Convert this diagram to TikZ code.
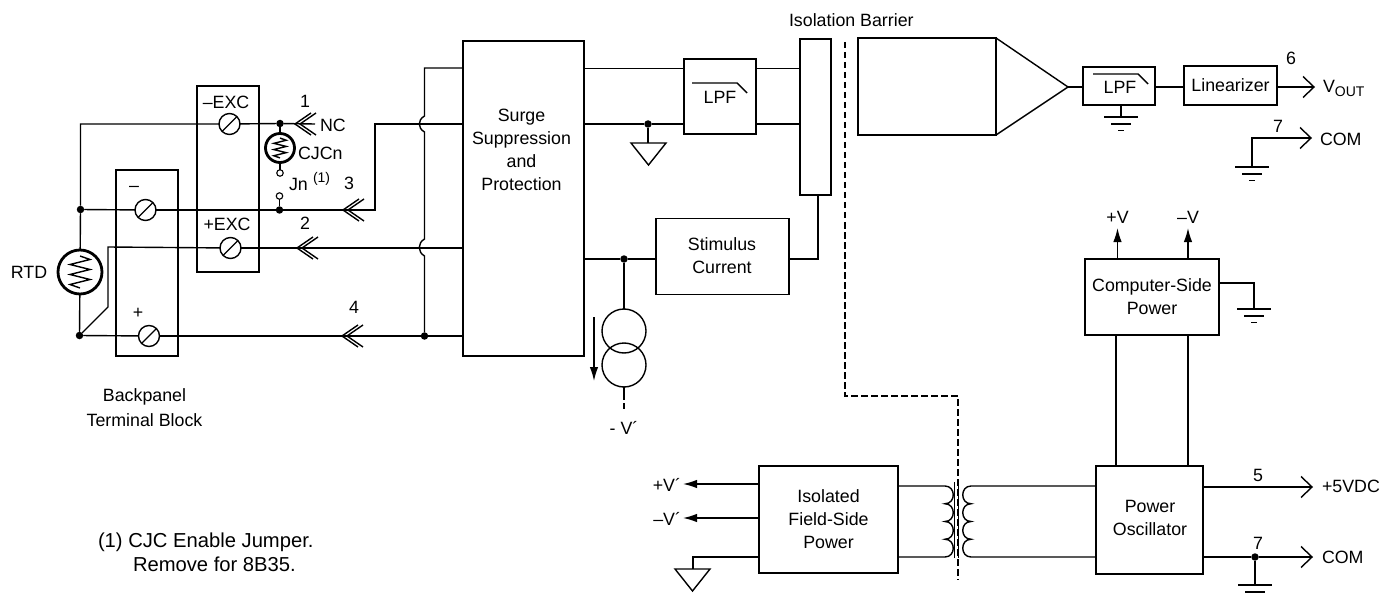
\documentclass[tikz,border=0pt]{standalone}
\usepackage{fontspec}
\setmainfont{Liberation Sans}
\usetikzlibrary{arrows.meta}
\newcommand{\mainsize}{\fontsize{17.8}{23}\selectfont}
\tikzset{
  x=1pt,y=-1pt,
  wire/.style={line width=1.4pt,line cap=butt,line join=miter},
  thinbox/.style={draw,line width=1.4pt,outer sep=0pt,inner sep=0pt,align=center,font=\mainsize},
  thickbox/.style={draw,line width=2.8pt,outer sep=0pt,inner sep=0pt,align=center,font=\mainsize},
  lbl/.style={inner sep=0pt,outer sep=0pt,font=\mainsize,align=center},
  dotn/.style={circle,fill,inner sep=0pt,minimum size=7.5pt,outer sep=0pt},
  open/.style={circle,draw,line width=1.1pt,inner sep=0pt,minimum size=6.5pt,outer sep=0pt},
  screw/.style={circle,draw,line width=1.4pt,inner sep=0pt,minimum size=21pt,outer sep=0pt},
  rcirc/.style={circle,draw,line width=2.8pt,inner sep=0pt,outer sep=0pt},
  pwr/.style={circle,draw,line width=1.4pt,inner sep=0pt,minimum size=44pt,outer sep=0pt},
  fhead/.style={wire,-{Latex[length=14pt,width=8.5pt]}},
  pics/dchev/.style={code={\draw[wire] (16,-11)--(0,0)--(16,11) (21,-11)--(5,0)--(21,11);}},
  pics/chev/.style={code={\draw[wire] (-11,-10.5)--(0,0)--(-11,10.5);}},
  pics/gnd/.style={code={\draw[wire] (-17,0)--(17,0) (-10,7)--(10,7) (-3,13.5)--(3,13.5);}},
  pics/gndtwo/.style={code={\draw[wire] (-17,0)--(17,0) (-10,7)--(10,7);}},
  pics/tri/.style={code={\draw[wire,line join=miter] (-17.5,0)--(17.5,0)--(0,22)--cycle;}},
  pics/zig/.style={code={\draw[wire] (0,-16)--(10,-12.5)--(-10,-7.5)--(10,-2.5)--(-10,2.5)--(10,7.5)--(-10,12.5)--(0,16);}},
  pics/lpfsym/.style={code={\draw[wire] (-28,0)--(17,0)--(27,10);}}
}
\begin{document}
\begin{tikzpicture}
\useasboundingbox (0,0) rectangle (1381,596);
% terminal blocks
\node[thickbox,minimum width=62pt,minimum height=186pt] (exc) at (228,179) {};
\node[thickbox,minimum width=62pt,minimum height=186pt] (tb) at (147,263) {};
\node[screw] (s1) at (229.5,124) {}; \draw[wire] (s1.225)--(s1.45);
\node[screw] (s2) at (230.5,248) {}; \draw[wire] (s2.225)--(s2.45);
\node[screw] (s3) at (145.5,210) {}; \draw[wire] (s3.225)--(s3.45);
\node[screw] (s4) at (149,336) {}; \draw[wire] (s4.225)--(s4.45);
\node[lbl] (lexcm) at (226,102) {–EXC};
\node[lbl] (lexcp) at (227,224) {+EXC};
\node[lbl] (lm) at (134,189) {–};
\node[lbl] (lp) at (138,313) {+};
% main blocks
\node[thinbox,minimum width=121pt,minimum height=315pt] (surge) at (523.5,198.5) {};
\node[lbl] (surget) at (521.5,149.5) {Surge\hspace{5pt}\\Suppression\\and\hspace{5pt}\\Protection};
\node[thinbox,minimum width=72pt,minimum height=75pt] (lpfa) at (720,96.5) {};
\node[lbl] (lpfat) at (720,97) {LPF};
\pic at (720,83) {lpfsym};
\node[thinbox,minimum width=31pt,minimum height=156pt] (bar) at (815.5,117) {};
\node[thinbox,minimum width=133pt,minimum height=76pt] (stim) at (722.5,256.5) {};
\node[lbl] (stimt) at (722,255.5) {Stimulus\\Current};
\node[thinbox,minimum width=138pt,minimum height=97pt] (amp) at (927,86.5) {};
\coordinate (tip) at (1068,87);
\draw[wire] (amp.north east)--(tip)--(amp.south east);
\node[thinbox,minimum width=72pt,minimum height=38pt] (lpfb) at (1119,86) {};
\node[lbl] (lpfbt) at (1120,87) {LPF};
\pic at (1121,74) {lpfsym};
\node[thickbox,minimum width=93pt,minimum height=39pt] (lin) at (1230.5,85.5) {Linearizer};
\node[thickbox,minimum width=134pt,minimum height=76pt] (comp) at (1152,297) {Computer-Side\\Power};
\node[thickbox,minimum width=107pt,minimum height=108pt] (osc) at (1149.5,520) {};
\node[lbl] (osct) at (1150,518) {Power\\Oscillator};
\node[thickbox,minimum width=139pt,minimum height=107pt] (iso) at (828.5,519.5) {Isolated\\Field-Side\\Power};
% RTD
\node[rcirc,minimum size=44pt] (rtd) at (80,272) {};
\pic at (80,272) {zig};
\node[dotn] (d1) at (80.5,209.5) {};
\node[dotn] (d2) at (79.5,335.5) {};
\coordinate (c1) at (80.5,124);
\coordinate (c2) at (108,307);
\coordinate (c3) at (108,247);
\draw[wire] (s1)--(c1)--(d1)--(rtd)--(d2);
\draw[wire] (d1)--(s3);
\draw[wire] (d2)--(s4);
\draw[wire] (d2)--(c2)--(c3)--(s2);
% CJC
\node[dotn] (d3) at (280,123.5) {};
\node[rcirc,minimum size=29pt] (cjc) at (280,148) {};
\pic[scale=.62] at (280,148) {zig};
\node[open] (j1) at (280,173) {};
\node[open] (j2) at (279.5,196) {};
\node[dotn] (d4) at (279.5,210) {};
\coordinate (nc) at (315,124);
\draw[wire] (s1)--(d3)--(nc);
\draw[wire] (d3)--(cjc)--(j1);
\draw[wire] (j2)--(d4);
\pic at (295,124) {dchev};
\node[lbl] (n1) at (305,101) {1};
\node[lbl,anchor=west] (lnc) at (320,125) {NC};
\node[lbl,anchor=west] (lcjc) at (298,153) {CJCn};
\node[lbl,anchor=west] (ljn) at (289,184.5) {Jn};
\node[lbl,anchor=west,font=\fontsize{14}{16}\selectfont] (ljn1) at (313,179) {(1)};
\node[lbl] (lrtd) at (29,272) {RTD};
% wires to the surge block
\coordinate (w3a) at (375,210);
\coordinate (w3b) at (375,124);
\draw[wire] (s3)--(d4)--(w3a)--(w3b)--(w3b-|surge.west);
\pic at (343,210) {dchev};
\node[lbl] (n3) at (349,183) {3};
\draw[wire] (s2)--(s2-|surge.west);
\pic at (297,248) {dchev};
\node[lbl] (n2) at (305,223) {2};
\node[dotn] (d5) at (424.5,336) {};
\draw[wire] (s4)--(d5)--(d5-|surge.west);
\pic at (342,336) {dchev};
\node[lbl] (n4) at (354,307) {4};
\coordinate (vt) at (424.5,68);
\draw[wire] (surge.west|-vt)--(vt)--(424.5,116) .. controls (417.5,120) and (417.5,128) .. (424.5,132)
  --(424.5,239) .. controls (417.5,243) and (417.5,252) .. (424.5,256)--(d5);
% surge to LPF to bar
\coordinate (a1) at (584,68.5);
\coordinate (a2) at (584,124);
\node[dotn] (d6) at (648,124) {};
\draw[wire] (surge.east|-a1)--(lpfa.west|-a1);
\draw[wire] (surge.east|-a2)--(d6)--(lpfa.west|-a2);
\draw[wire] (lpfa.east|-a1)--(bar.west|-a1);
\draw[wire] (lpfa.east|-a2)--(bar.west|-a2);
\coordinate (t1) at (648,143);
\draw[wire] (d6)--(t1);
\pic at (648.5,143) {tri};
\node[lbl,anchor=west] (lib) at (789,20) {Isolation Barrier};
% stimulus
\coordinate (b3) at (584,259);
\node[dotn] (d7) at (624,259) {};
\draw[wire] (surge.east|-b3)--(d7)--(stim.west|-b3);
\coordinate (b4) at (818,259);
\draw[wire] (stim.east|-b4)--(b4)--(b4|-bar.south);
\node[pwr] (p1) at (624,331) {};
\node[pwr] (p2) at (624,365) {};
\draw[wire] (d7)--(p1);
\coordinate (p3) at (624,409);
\draw[wire,dash pattern=on 13pt off 3pt on 6pt off 2pt] (p2)--(p3);
\coordinate (ar1) at (594,317);
\coordinate (ar2) at (594,381);
\draw[fhead] (ar1)--(ar2);
\node[lbl] (lv) at (624,428) {- V´};
% dashed barrier
\coordinate (q1) at (845,42);
\coordinate (q2) at (845,396);
\coordinate (q3) at (958,396);
\coordinate (q4) at (958,580);
\draw[line width=1.2pt,dash pattern=on 6.5pt off 3.5pt] (q1)--(q2)--(q3)--(q4);
% output side
\draw[wire] (tip)--(lpfb.west|-tip);
\draw[wire] (lpfb.east|-tip)--(lin.west|-tip);
\coordinate (o1) at (1314,87);
\draw[wire] (lin.east|-tip)--(o1);
\pic at (o1) {chev};
\node[lbl] (n6) at (1291,58) {6};
\node[lbl,anchor=west] (lvo) at (1323,88) {V\raisebox{-4pt}{\fontsize{14}{14}\selectfont OUT}};
\coordinate (g1) at (1121,117);
\draw[wire] (lpfb.south-|g1)--(g1);
\pic at (g1) {gnd};
\coordinate (o2) at (1252,138);
\coordinate (o3) at (1311,138);
\coordinate (g2) at (1252,167);
\draw[wire] (g2)--(o2)--(o3);
\pic at (o3) {chev};
\pic at (g2) {gnd};
\node[lbl] (n7a) at (1278,126) {7};
\node[lbl,anchor=west] (lcom1) at (1320,139) {COM};
% computer side power
\coordinate (u1) at (1117.5,228);
\coordinate (u2) at (1188,228);
\draw[fhead] (comp.north-|u1)--(u1);
\draw[fhead] (comp.north-|u2)--(u2);
\node[lbl] (lpv) at (1117.5,217) {+V};
\node[lbl] (lmv) at (1188,217) {–V};
\coordinate (g3a) at (1254,283);
\coordinate (g3) at (1254,309);
\draw[wire] (comp.east|-g3a)--(g3a)--(g3);
\pic at (g3) {gnd};
\coordinate (v1) at (1116,400);
\coordinate (v2) at (1188,400);
\draw[wire] (comp.south-|v1)--(osc.north-|v1);
\draw[wire] (comp.south-|v2)--(osc.north-|v2);
% oscillator outputs
\coordinate (o5) at (1312,487);
\draw[wire] (osc.east|-o5)--(o5);
\pic at (o5) {chev};
\node[lbl] (n5) at (1258,475) {5};
\node[lbl,anchor=west] (l5v) at (1322,486) {+5VDC};
\coordinate (o7) at (1312,557);
\node[dotn] (d8) at (1255,557) {};
\draw[wire] (osc.east|-o7)--(d8)--(o7);
\pic at (o7) {chev};
\coordinate (g4) at (1255,585);
\draw[wire] (d8)--(g4);
\pic at (g4) {gndtwo};
\node[lbl] (n7b) at (1258,543) {7};
\node[lbl,anchor=west] (lcom2) at (1322,557) {COM};
% isolated power
\coordinate (e1) at (683,484);
\coordinate (e2) at (683,518);
\draw[fhead] (iso.west|-e1)--(e1);
\draw[fhead] (iso.west|-e2)--(e2);
\node[lbl,anchor=east] (lpvp) at (681,485) {+V´};
\node[lbl,anchor=east] (lmvp) at (681,519) {–V´};
\coordinate (e3) at (693,557);
\coordinate (e4) at (693,569);
\draw[wire] (iso.west|-e3)--(e3)--(e4);
\pic at (692.5,569) {tri};
% transformer
\coordinate (tl1) at (945,486);
\coordinate (tl2) at (945,557);
\coordinate (tr1) at (971,486);
\coordinate (tr2) at (971,557);
\draw[wire] (iso.east|-tl1)--(tl1)
  .. controls (956,486) and (956,503.75) .. (945,503.75)
  .. controls (956,503.75) and (956,521.5) .. (945,521.5)
  .. controls (956,521.5) and (956,539.25) .. (945,539.25)
  .. controls (956,539.25) and (956,557) .. (tl2)--(iso.east|-tl2);
\draw[wire] (osc.west|-tr1)--(tr1)
  .. controls (960,486) and (960,503.75) .. (971,503.75)
  .. controls (960,503.75) and (960,521.5) .. (971,521.5)
  .. controls (960,521.5) and (960,539.25) .. (971,539.25)
  .. controls (960,539.25) and (960,557) .. (tr2)--(osc.west|-tr2);
\coordinate (k1) at (954.5,482);
\coordinate (k2) at (954.5,558);
\coordinate (k3) at (958.5,482);
\coordinate (k4) at (958.5,558);
\draw[wire] (k1)--(k2);
\draw[wire] (k3)--(k4);
% captions
\node[lbl] (cap1) at (144.5,397) {Backpanel};
\node[lbl] (cap2) at (144.5,420) {Terminal Block};
\node[lbl,anchor=west,font=\fontsize{20.2}{23}\selectfont] (note1) at (98,542) {(1) CJC Enable Jumper.};
\node[lbl,anchor=west,font=\fontsize{20.2}{23}\selectfont] (note2) at (133,564) {Remove for 8B35.};
\end{tikzpicture}
\end{document}
